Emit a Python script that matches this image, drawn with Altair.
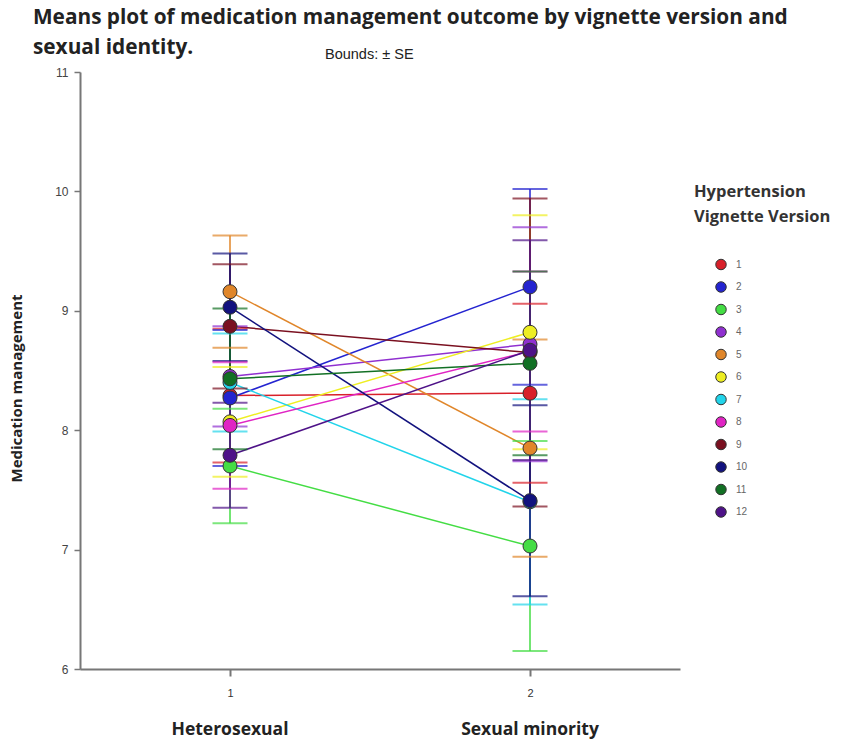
import altair as alt
import pandas as pd

# Vignette versions and their colours
versions = ["1", "2", "3", "4", "5", "6", "7", "8", "9", "10", "11", "12"]
colors = ["#d8202a", "#2424d0", "#44dd44", "#9030d0", "#e0862a", "#eeee22",
          "#22d4ea", "#e024c4", "#7a1020", "#12127e", "#127024", "#4e1288"]

# Sexual identity groups on the x axis
groups = [1, 2]
group_names = ["Heterosexual", "Sexual minority"]

# Means and standard errors, heterosexual group
het_mean = [8.29, 8.27, 7.70, 8.45, 9.16, 8.07, 8.40, 8.04, 8.87, 9.03, 8.43, 7.79]
het_se = [0.56, 0.57, 0.48, 0.42, 0.47, 0.46, 0.41, 0.53, 0.52, 0.45, 0.59, 0.44]

# Means and standard errors, sexual minority group
min_mean = [8.31, 9.20, 7.03, 8.72, 7.85, 8.82, 7.40, 8.66, 8.65, 7.41, 8.56, 8.67]
min_se = [0.75, 0.82, 0.88, 0.98, 0.91, 0.98, 0.86, 0.67, 1.29, 0.80, 0.77, 0.92]

rows = []
for i, v in enumerate(versions):
    for g, m, s in ((groups[0], het_mean[i], het_se[i]), (groups[1], min_mean[i], min_se[i])):
        rows.append({"version": v, "idx": i, "group": g, "mean": m,
                     "lo": round(m - s, 3), "hi": round(m + s, 3)})
df = pd.DataFrame(rows)
cats = pd.DataFrame({"group": groups, "name": group_names})

W, H = 600, 597

x_enc = alt.X("group:Q", scale=alt.Scale(domain=[0.5, 2.5], nice=False),
              axis=alt.Axis(values=groups, format="d", title=None, grid=False,
                            tickSize=7, tickColor="#777", domainColor="#777",
                            domainWidth=2, tickWidth=2, labelColor="#333",
                            labelFont="Liberation Sans", labelFontSize=11,
                            labelPadding=11))
y_scale = alt.Scale(domain=[6, 11], nice=False, zero=False)
y_axis = alt.Axis(values=[6, 7, 8, 9, 10, 11], format="d",
                  title="Medication management",
                  grid=False, tickSize=6, tickColor="#777", tickWidth=1.5,
                  domainColor="#777", domainWidth=2, labelColor="#444",
                  labelFont="Liberation Sans", labelFontSize=12, labelPadding=6,
                  titleFont="Open Sans", titleFontSize=15, titleFontWeight="bold",
                  titleColor="#222", titlePadding=30, titleY=316)
color_scale = alt.Scale(domain=versions, range=colors)
no_legend = alt.Color("version:N", scale=color_scale, legend=None)

base = alt.Chart(df)

# Connecting lines between the two group means of each version
lines = base.mark_line(strokeWidth=1.5).encode(
    x=x_enc,
    y=alt.Y("mean:Q", scale=y_scale, axis=y_axis),
    color=no_legend,
    detail="version:N",
    order="group:Q",
)

# Error bars: mean +/- SE, with caps at both ends
bars = base.mark_rule(strokeWidth=1.5).encode(
    x="group:Q", y="lo:Q", y2="hi:Q", color=no_legend, order="idx:Q",
)
caps_lo = base.mark_tick(orient="horizontal", size=35, thickness=2).encode(
    x="group:Q", y="lo:Q", color=no_legend, order="idx:Q",
)
caps_hi = base.mark_tick(orient="horizontal", size=35, thickness=2).encode(
    x="group:Q", y="hi:Q", color=no_legend, order="idx:Q",
)

points = base.mark_point(filled=True, size=196, opacity=1, stroke="#333",
                         strokeWidth=1).encode(
    x="group:Q",
    y="mean:Q",
    color=alt.Color("version:N", scale=color_scale,
                    legend=alt.Legend(
                        title=["Hypertension", "Vignette Version"],
                        orient="none", legendX=614, legendY=112,
                        titleFont="Open Sans", titleFontSize=16.5, titleFontWeight="bold",
                        titleColor="#333", titleLineHeight=25, titlePadding=33,
                        symbolType="circle", symbolSize=110, symbolOpacity=1,
                        symbolStrokeColor="#333", symbolStrokeWidth=1,
                        symbolOffset=21, labelOffset=9,
                        labelFont="Liberation Sans", labelFontSize=10,
                        labelColor="#666", rowPadding=6.5)),
    order="idx:Q",
)

names = alt.Chart(cats).mark_text(font="Open Sans", fontSize=17.5, fontWeight="bold",
                                   color="#222", baseline="middle").encode(
    x="group:Q",
    y=alt.value(H + 61),
    text="name:N",
)

bounds = alt.Chart(pd.DataFrame({"t": ["Bounds:   \u00b1 SE"]})).mark_text(
    font="Liberation Sans", fontSize=14.5, color="#222", align="left",
    baseline="middle").encode(x=alt.value(245), y=alt.value(-17), text="t:N")

chart = alt.layer(lines, bars, caps_lo, caps_hi, points, names, bounds).resolve_legend(
    color="independent"
).properties(
    width=W, height=H,
    background="white",
    autosize=alt.AutoSizeParams(type="none"),
    padding={"left": 80, "top": 72, "right": 161, "bottom": 74},
    title=alt.TitleParams(
        text=["Means plot of medication management outcome by vignette version and",
              "sexual identity."],
        anchor="start", frame="group", dx=-47, dy=24, font="Open Sans", fontSize=20.8,
        fontWeight="bold", color="#222", lineHeight=30, offset=12),
).configure_view(stroke="transparent", strokeWidth=0)

chart.save("out.html", embed_options={"renderer": "svg", "actions": False})
